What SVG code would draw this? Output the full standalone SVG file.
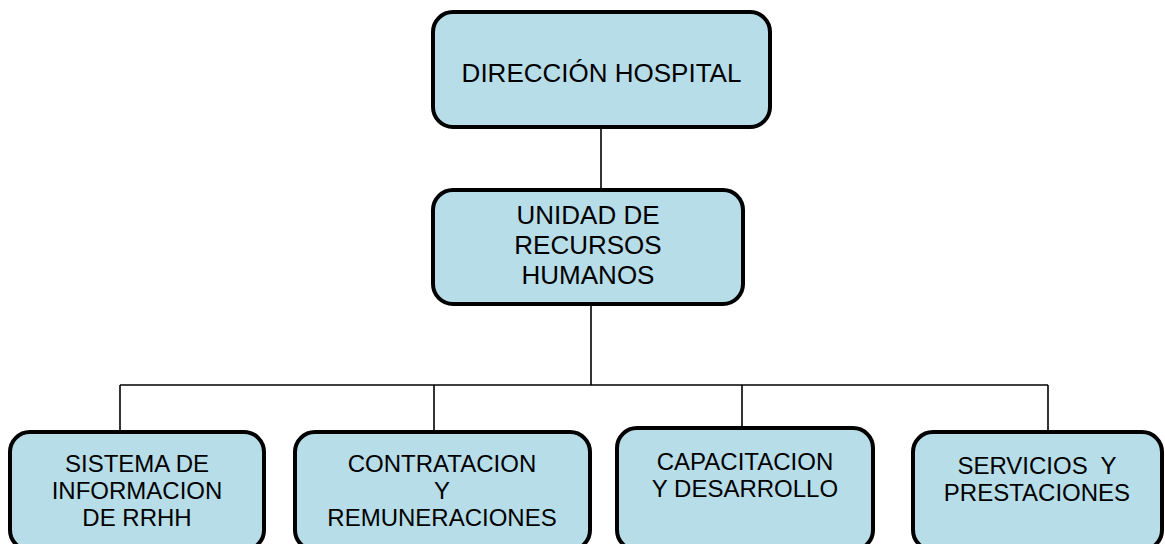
<svg xmlns="http://www.w3.org/2000/svg" width="1165" height="544" viewBox="0 0 1165 544">
<style>
.box{fill:#b7dde8;stroke:#000;stroke-width:4}
.t{font-family:"Liberation Sans",Arial,sans-serif;fill:#000;text-anchor:middle;white-space:pre}
.big{font-size:26px}
.sm{font-size:24px}
.ln{stroke:#000;stroke-width:1.6;fill:none}
</style>
<rect x="0" y="0" width="1165" height="544" fill="#fff"/>
<g id="connectors">
<line class="ln" x1="601" y1="127" x2="601" y2="190"/>
<line class="ln" x1="591" y1="304" x2="591" y2="385"/>
<line class="ln" x1="120" y1="385" x2="1048" y2="385"/>
<line class="ln" x1="120" y1="385" x2="120" y2="432"/>
<line class="ln" x1="434" y1="385" x2="434" y2="432"/>
<line class="ln" x1="742" y1="385" x2="742" y2="428"/>
<line class="ln" x1="1048" y1="385" x2="1048" y2="432"/>
</g>
<g id="direccion">
<rect class="box" x="433" y="12" width="337" height="115" rx="20"/>
<text class="t big" x="601.5" y="82">DIRECCIÓN HOSPITAL</text>
</g>
<g id="unidad">
<rect class="box" x="433" y="190" width="310" height="114" rx="20"/>
<text class="t big" x="588" y="224">UNIDAD DE</text>
<text class="t big" x="588" y="254">RECURSOS</text>
<text class="t big" x="588" y="284">HUMANOS</text>
</g>
<g id="sistema">
<rect class="box" x="10" y="432" width="254" height="118" rx="20"/>
<text class="t sm" x="137" y="472">SISTEMA DE</text>
<text class="t sm" x="137" y="499">INFORMACION</text>
<text class="t sm" x="137" y="526">DE RRHH</text>
</g>
<g id="contratacion">
<rect class="box" x="295" y="432" width="295" height="118" rx="20"/>
<text class="t sm" x="442" y="472">CONTRATACION</text>
<text class="t sm" x="442" y="499">Y</text>
<text class="t sm" x="442" y="526">REMUNERACIONES</text>
</g>
<g id="capacitacion">
<rect class="box" x="617" y="428" width="256" height="122" rx="20"/>
<text class="t sm" x="745" y="470">CAPACITACION</text>
<text class="t sm" x="745" y="497">Y DESARROLLO</text>
</g>
<g id="servicios">
<rect class="box" x="913" y="432" width="249" height="118" rx="20"/>
<text class="t sm" x="1037" y="474">SERVICIOS  Y</text>
<text class="t sm" x="1037" y="501">PRESTACIONES</text>
</g>
</svg>
